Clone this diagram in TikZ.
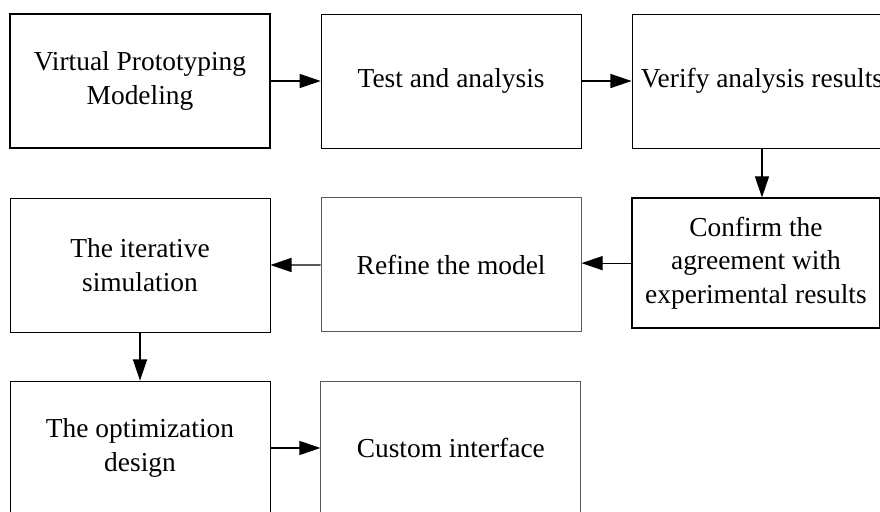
\documentclass[tikz,border=0pt]{standalone}
\usepackage{fontspec}
\setmainfont{Liberation Serif}
\usepackage{tikz}
\usetikzlibrary{positioning, arrows.meta}
\tikzset{
  stagebox/.style={
    draw, line width=0.6pt,
    minimum width=6.5cm, minimum height=3.35cm,
    inner sep=2pt, align=center,
    font=\fontsize{19.5pt}{24pt}\selectfont
  },
  heavybox/.style={stagebox, line width=1pt},
  softbox/.style={stagebox, draw=black!65},
  flow/.style={-{Triangle[length=15pt,width=10pt]}, line width=0.9pt},
}

\begin{document}
\begin{tikzpicture}[node distance=1.225cm and 1.25cm]
  \useasboundingbox (0,0) rectangle (22,-12.775);

  % top row
  \node[heavybox] (model) at (3.5,-2.025) {Virtual Prototyping\\Modeling};
  \node[stagebox, right=of model] (test) {Test and analysis};
  \node[stagebox, right=of test] (verify) {Verify analysis results};

  % middle row
  \node[heavybox, minimum width=6.2cm, minimum height=3.25cm,
        below=of verify, xshift=-0.15cm] (confirm)
    {Confirm the\\agreement with\\experimental results};
  \node[softbox, below=of test] (refine) {Refine the model};
  \node[stagebox, below=of model] (iterate) {The iterative\\simulation};

  % bottom row
  \node[stagebox, below=1.2cm of iterate] (optim) {The optimization\\design};
  \node[softbox, right=of optim] (custom) {Custom interface};

  \draw[flow] (model) -- (test);
  \draw[flow] (test) -- (verify);
  \draw[flow] (verify.south) -- (verify.south |- confirm.north);
  \draw[flow] (confirm.west) -- (confirm.west -| refine.east);
  \draw[flow] (refine) -- (iterate);
  \draw[flow] (iterate) -- (optim);
  \draw[flow] (optim) -- (custom);
\end{tikzpicture}
\end{document}
